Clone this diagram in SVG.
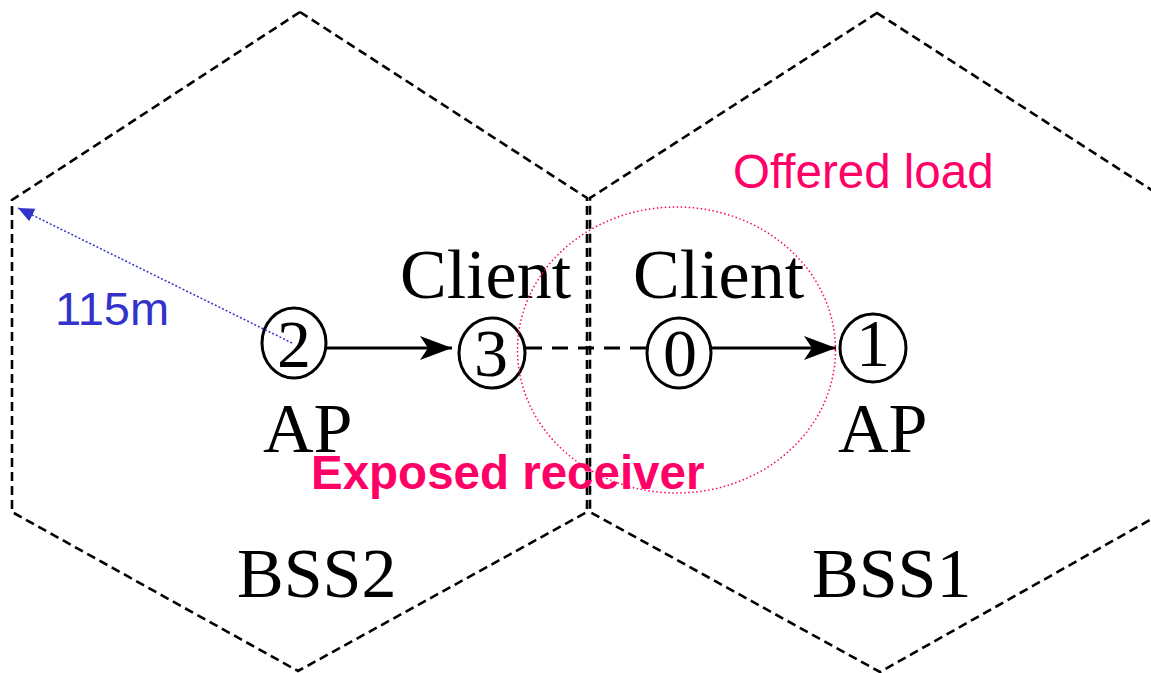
<svg xmlns="http://www.w3.org/2000/svg" width="1151" height="673" viewBox="0 0 1151 673">
<style>
.hex{fill:none;stroke:#000;stroke-width:2.6;stroke-dasharray:9 5}
.node{fill:none;stroke:#000;stroke-width:3}
.tm{font-family:"Liberation Serif","Times New Roman",serif;font-size:70px;fill:#000}
.dg{font-family:"Liberation Serif","Times New Roman",serif;font-size:68px;fill:#000;text-anchor:middle}
.conn{stroke:#000;stroke-width:3;fill:none}
.pink{fill:#ff0066;font-family:"Liberation Sans",Arial,sans-serif;font-size:47.5px}
</style>
<defs>
<marker id="ah" markerWidth="34" markerHeight="28" refX="32" refY="14" orient="auto" markerUnits="userSpaceOnUse">
<path d="M0,2 L32,14 L0,26 L8,14 Z" fill="#000"/>
</marker>
<marker id="bh" markerWidth="18" markerHeight="16" refX="16" refY="8" orient="auto" markerUnits="userSpaceOnUse">
<path d="M0,1 L16,8 L0,15 Z" fill="#3333cc"/>
</marker>
</defs>
<g id="bss2">
<polygon class="hex" points="300,12 587,198 587,512 298,671 12,512 12,200"/>
<text class="tm" x="237" y="597">BSS2</text>
</g>
<g id="bss1">
<polygon class="hex" points="877,13 1164,198 1164,512 880,672 590,512 590,198"/>
<text class="tm" x="812" y="597">BSS1</text>
</g>
<g id="connectors">
<line class="conn" x1="326" y1="348" x2="452" y2="348" marker-end="url(#ah)"/>
<line class="conn" x1="526" y1="348" x2="647" y2="348" stroke-dasharray="16 10"/>
<line class="conn" x1="711" y1="348" x2="836" y2="348" marker-end="url(#ah)"/>
</g>
<g id="node2">
<ellipse class="node" cx="294" cy="343" rx="32" ry="35"/>
<text class="dg" x="294" y="367">2</text>
<text class="tm" x="263" y="452">AP</text>
</g>
<g id="node3">
<ellipse class="node" cx="492" cy="353" rx="33" ry="35"/>
<text class="dg" x="491" y="376">3</text>
<text class="tm" x="400" y="298">Client</text>
</g>
<g id="node0">
<ellipse class="node" cx="679" cy="353" rx="32" ry="35"/>
<text class="dg" x="680" y="376">0</text>
<text class="tm" x="633" y="298">Client</text>
</g>
<g id="node1">
<ellipse class="node" cx="873" cy="348" rx="33" ry="34"/>
<text class="dg" x="873" y="366">1</text>
<text class="tm" x="838" y="452">AP</text>
</g>
<g id="offered-load">
<ellipse cx="676.5" cy="350" rx="159" ry="143" fill="none" stroke="#ff0066" stroke-width="1.5" stroke-dasharray="1.5 2.5"/>
<text class="pink" x="733" y="188">Offered load</text>
</g>
<g id="range">
<line x1="292" y1="343" x2="18" y2="208" stroke="#3333cc" stroke-width="1.5" stroke-dasharray="2 2" marker-end="url(#bh)"/>
<text x="55" y="325" font-family="Liberation Sans,Arial,sans-serif" font-size="47" fill="#3333cc">115m</text>
</g>
<text class="pink" x="311" y="489" font-weight="bold">Exposed receiver</text>
</svg>
